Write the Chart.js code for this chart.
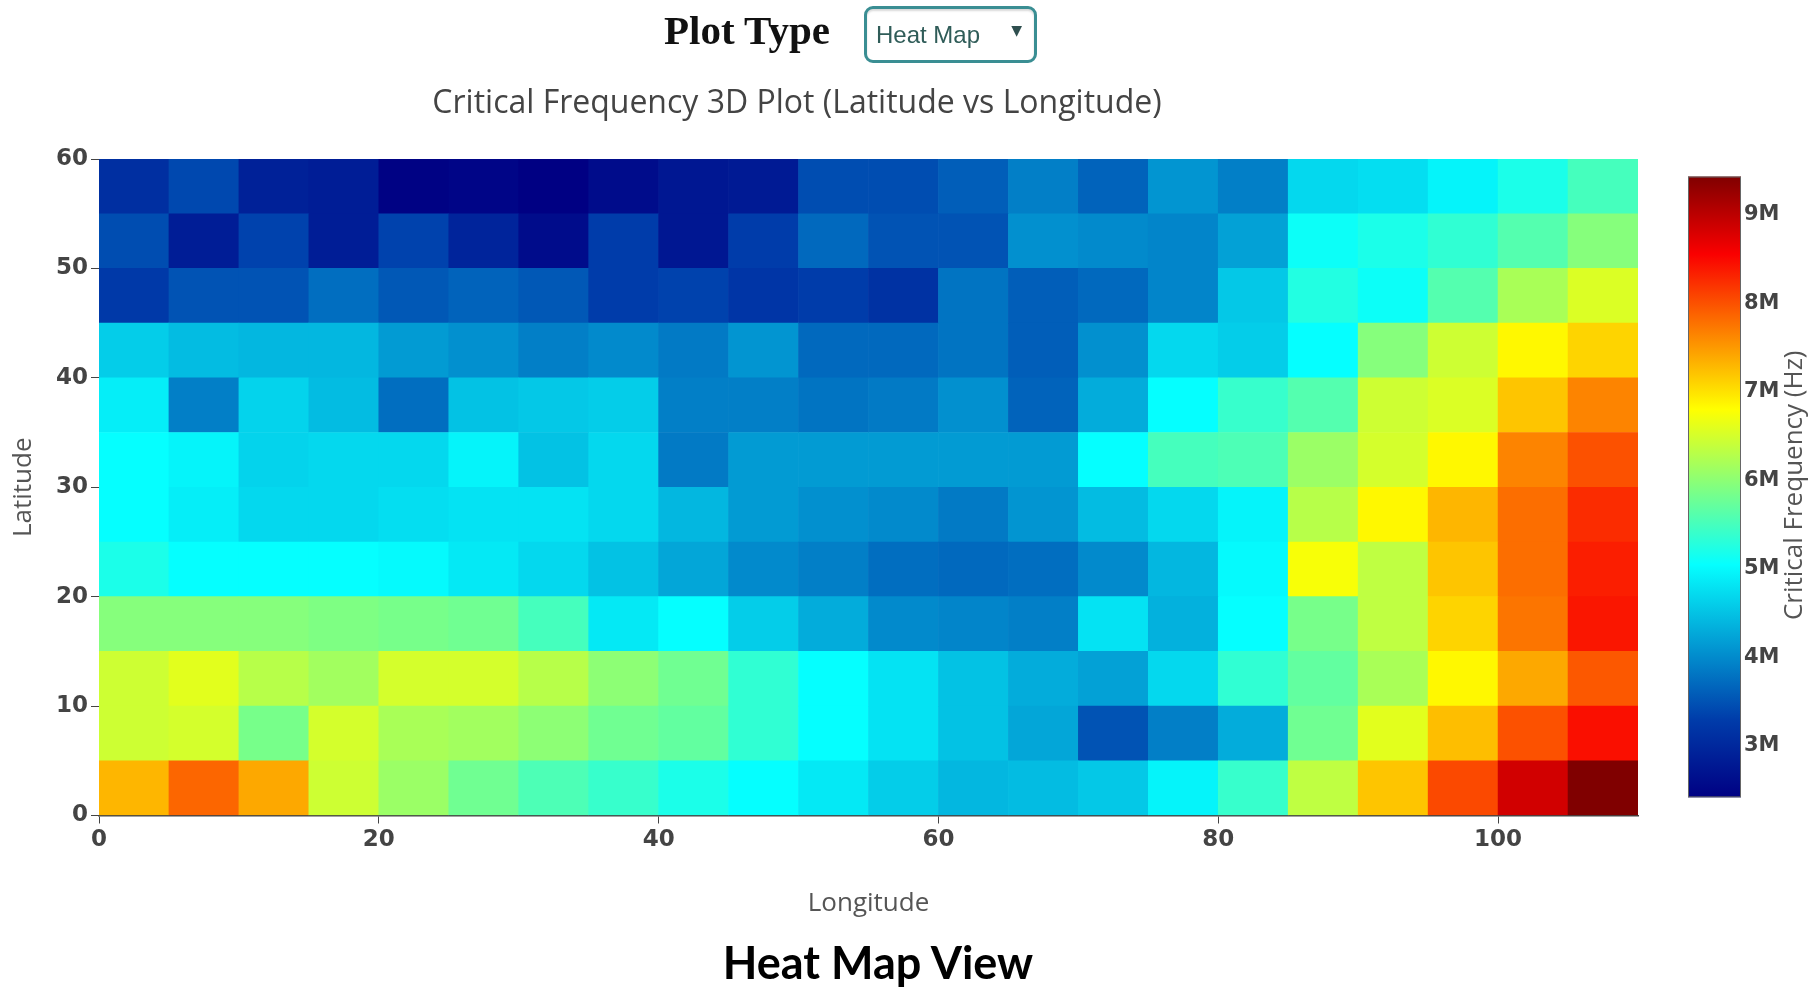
<!DOCTYPE html>
<html>
<head>
<meta charset="utf-8">
<title>Heat Map View</title>
<script src="https://cdn.jsdelivr.net/npm/chart.js@4.4.1/dist/chart.umd.min.js"></script>
<style>
  html, body { margin: 0; padding: 0; background: #fff; }
  #page { position: relative; width: 1819px; height: 990px; overflow: hidden; }
  #heat { position: absolute; left: 0; top: 0; }
  .plot-type { position: absolute; left: 664px; top: 6px; font: bold 41px "Liberation Serif", "Times New Roman", serif; color: #111; line-height: 48px; }
  .select { position: absolute; left: 864px; top: 6px; width: 167px; height: 51px; box-sizing: content-box;
            border: 3px solid #3a8e93; border-radius: 9px; box-shadow: inset 0 2px 2px rgba(0,0,0,0.15); }
  .select span { position: absolute; left: 9px; top: 12px; font: 24px "Liberation Sans", Arial, sans-serif; color: #2f5c58; }
  .select i { position: absolute; right: 12px; top: 13px; font: normal 14px "DejaVu Sans", sans-serif; color: #2f4f4f; }
  .title { position: absolute; left: 0; top: 79px; width: 1594px; text-align: center; font: 32px "Open Sans", sans-serif; color: #444; }
  .caption { position: absolute; left: 0; top: 935px; width: 1756px; text-align: center; font: bold 45px Lato, "Open Sans", sans-serif; color: #000; }
</style>
</head>
<body>
<div id="page">
  <canvas id="heat" width="1819" height="940"></canvas>
  <div class="plot-type">Plot Type</div>
  <div class="select"><span>Heat Map</span><i>&#9660;</i></div>
  <div class="title">Critical Frequency 3D Plot (Latitude vs Longitude)</div>
  <div class="caption">Heat Map View</div>
</div>
<script>
// longitude cell starts (deg) and latitude band starts (deg)
const lonStarts = [0, 5, 10, 15, 20, 25, 30, 35, 40, 45, 50, 55, 60, 65, 70, 75, 80, 85, 90, 95, 100, 105];
const latStarts = [0, 5, 10, 15, 20, 25, 30, 35, 40, 45, 50, 55];
const cellSize = 5;

// critical frequency per latitude band, in MHz (west -> east)
const lat0  = [7.3, 7.85, 7.4, 6.45, 6.1, 5.8, 5.55, 5.4, 5.2, 5.05, 4.85, 4.6, 4.4, 4.45, 4.55, 4.95, 5.4, 6.35, 7.2, 8.05, 8.85, 9.43];
const lat5  = [6.45, 6.5, 5.85, 6.5, 6.2, 6.15, 6.0, 5.8, 5.7, 5.35, 5.05, 4.8, 4.5, 4.25, 3.5, 3.9, 4.3, 5.8, 6.6, 7.25, 8.0, 8.45];
const lat10 = [6.45, 6.6, 6.3, 6.15, 6.5, 6.5, 6.3, 6.0, 5.8, 5.35, 5.05, 4.8, 4.5, 4.3, 4.2, 4.7, 5.35, 5.7, 6.2, 6.85, 7.4, 7.95];
const lat15 = [5.95, 5.95, 5.95, 5.9, 5.85, 5.8, 5.5, 4.85, 5.05, 4.6, 4.3, 4.0, 3.95, 3.9, 4.8, 4.35, 5.05, 5.85, 6.35, 7.1, 7.75, 8.4];
const lat20 = [5.2, 5.05, 5.05, 5.05, 5.0, 4.85, 4.7, 4.5, 4.25, 4.0, 3.9, 3.75, 3.7, 3.75, 4.0, 4.4, 5.0, 6.75, 6.35, 7.2, 7.8, 8.35];
const lat25 = [5.05, 4.9, 4.7, 4.7, 4.75, 4.8, 4.8, 4.7, 4.4, 4.15, 4.05, 4.0, 3.85, 4.1, 4.45, 4.7, 4.95, 6.3, 6.85, 7.3, 7.8, 8.25];
const lat30 = [5.05, 4.95, 4.65, 4.7, 4.7, 4.95, 4.5, 4.7, 3.85, 4.15, 4.15, 4.15, 4.15, 4.15, 5.05, 5.5, 5.55, 6.1, 6.5, 6.85, 7.65, 8.0];
const lat35 = [4.9, 3.9, 4.65, 4.45, 3.75, 4.5, 4.55, 4.6, 3.9, 3.9, 3.8, 3.85, 4.05, 3.65, 4.3, 5.05, 5.4, 5.6, 6.45, 6.55, 7.2, 7.65];
const lat40 = [4.6, 4.45, 4.4, 4.4, 4.15, 4.05, 3.9, 4.0, 3.85, 4.1, 3.7, 3.7, 3.8, 3.6, 4.05, 4.7, 4.6, 5.05, 5.95, 6.45, 6.85, 7.1];
const lat45 = [3.25, 3.5, 3.5, 3.75, 3.55, 3.65, 3.55, 3.3, 3.35, 3.2, 3.3, 3.15, 3.8, 3.6, 3.7, 3.95, 4.55, 5.25, 5.1, 5.6, 6.2, 6.55];
const lat50 = [3.45, 2.85, 3.35, 2.85, 3.35, 2.95, 2.6, 3.3, 2.75, 3.3, 3.7, 3.5, 3.5, 4.05, 4.0, 3.95, 4.2, 5.1, 5.2, 5.35, 5.6, 5.95];
const lat55 = [3.1, 3.4, 2.9, 2.85, 2.45, 2.5, 2.42, 2.6, 2.75, 2.8, 3.45, 3.45, 3.6, 3.9, 3.65, 4.1, 3.9, 4.7, 4.75, 4.95, 5.2, 5.5];
const bands = [lat0, lat5, lat10, lat15, lat20, lat25, lat30, lat35, lat40, lat45, lat50, lat55];

// tick labels
const lonTicks = [0, 20, 40, 60, 80, 100];
const latTicks = [0, 10, 20, 30, 40, 50, 60];
const cbTicks = [3, 4, 5, 6, 7, 8, 9];

// plotly "Jet" colorscale
const jet = [
  [0, [0, 0, 131]], [0.125, [0, 60, 170]], [0.375, [5, 255, 255]],
  [0.625, [255, 255, 0]], [0.875, [250, 0, 0]], [1, [128, 0, 0]]
];

const zMin = Math.min(...bands.flat());
const zMax = Math.max(...bands.flat());

function jetColor(v) {
  const t = Math.max(0, Math.min(1, (v - zMin) / (zMax - zMin)));
  for (let i = 1; i < jet.length; i++) {
    if (t <= jet[i][0]) {
      const [t0, c0] = jet[i - 1], [t1, c1] = jet[i];
      const k = (t - t0) / (t1 - t0);
      const c = c0.map((a, j) => Math.round(a + (c1[j] - a) * k));
      return `rgb(${c[0]},${c[1]},${c[2]})`;
    }
  }
  return 'rgb(128,0,0)';
}

const datasets = bands.map((row, r) => ({
  label: 'lat ' + latStarts[r],
  data: row.map((f, c) => ({ x: lonStarts[c] + cellSize / 2, y: [latStarts[r], latStarts[r] + cellSize], f })),
  backgroundColor: ctx => jetColor(ctx.raw.f),
  borderWidth: 0,
  grouped: false,
  barPercentage: 1,
  categoryPercentage: 1
}));

const tickFont = { family: '"DejaVu Sans", Verdana, sans-serif', size: 23, weight: 'bold' };
const cbFont = { family: '"DejaVu Sans", Verdana, sans-serif', size: 21, weight: 'bold' };
const titleFont = { family: '"Open Sans", sans-serif', size: 26 };

// gradient bar + rotated title for the colour axis
const colorbar = {
  id: 'colorbar',
  afterDraw(chart) {
    const cb = chart.scales.cb;
    const { ctx, chartArea } = chart;
    const top = cb.getPixelForValue(zMax);
    const bottom = cb.getPixelForValue(zMin);
    const x0 = cb.left + 50, w = 53;
    const grad = ctx.createLinearGradient(0, bottom, 0, top);
    jet.forEach(([t, c]) => grad.addColorStop(t, `rgb(${c[0]},${c[1]},${c[2]})`));
    ctx.save();
    ctx.fillStyle = grad;
    ctx.fillRect(x0, top, w, bottom - top);
    ctx.strokeStyle = '#666';
    ctx.lineWidth = 1;
    ctx.strokeRect(x0 + 0.5, top + 0.5, w - 1, bottom - top - 1);
    ctx.translate(cb.left + 157, (chartArea.top + chartArea.bottom) / 2 - 2);
    ctx.rotate(-Math.PI / 2);
    ctx.font = '26px "Open Sans", sans-serif';
    ctx.fillStyle = '#555';
    ctx.textAlign = 'center';
    ctx.textBaseline = 'middle';
    ctx.fillText('Critical Frequency (Hz)', 0, 0);
    ctx.restore();
  }
};

new Chart(document.getElementById('heat'), {
  type: 'bar',
  data: { datasets },
  plugins: [colorbar],
  options: {
    responsive: false,
    animation: false,
    layout: { padding: { top: 159, left: 0, right: 0, bottom: 0 } },
    plugins: { legend: { display: false }, tooltip: { enabled: false } },
    scales: {
      x: {
        type: 'linear', min: 0, max: 110, offset: false,
        afterBuildTicks: s => { s.ticks = lonTicks.map(value => ({ value })); },
        afterFit: s => { s.height = 124.5; },
        ticks: { font: tickFont, color: '#444', padding: 3, maxRotation: 0 },
        grid: { drawOnChartArea: false, offset: false, tickLength: 8, color: '#444' },
        border: { display: true, color: '#444', width: 1.5 },
        title: { display: true, text: 'Longitude', font: titleFont, color: '#555', padding: { top: 0, bottom: 21 } }
      },
      y: {
        type: 'linear', min: 0, max: 60,
        afterBuildTicks: s => { s.ticks = latTicks.map(value => ({ value })); },
        afterFit: s => { s.width = 99; },
        ticks: { font: tickFont, color: '#444', padding: 3 },
        grid: { drawOnChartArea: false, tickLength: 8, color: '#444' },
        border: { display: false },
        title: { display: true, text: 'Latitude', font: titleFont, color: '#555', padding: { top: 8, bottom: 0 } }
      },
      cb: {
        axis: 'y', type: 'linear', position: 'right', min: 2.215, max: 9.628,
        afterBuildTicks: s => { s.ticks = cbTicks.map(value => ({ value })); },
        afterFit: s => { s.width = 181; },
        ticks: { font: cbFont, color: '#444', padding: 106, callback: v => v + 'M' },
        grid: { display: false, drawTicks: false },
        border: { display: false }
      }
    }
  }
});
</script>
</body>
</html>
